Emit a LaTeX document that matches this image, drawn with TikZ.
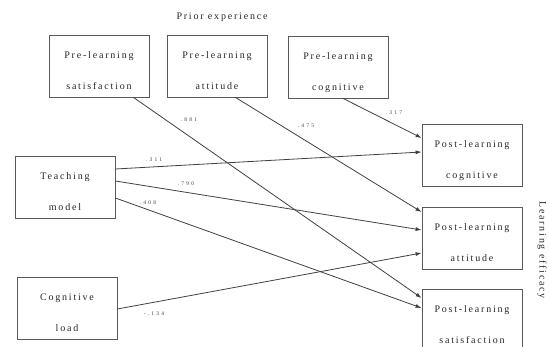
\documentclass[tikz,border=0pt]{standalone}
\usepackage{fontspec}
\setmainfont{Liberation Serif}[LetterSpace=18]
\newfontfamily\lblfont{Liberation Serif}[LetterSpace=40]
\usepackage{tikz}
\usetikzlibrary{arrows.meta}

\begin{document}
\begin{tikzpicture}[x=1pt,y=-1pt,
    box/.style={draw=black!65,line width=0.8pt,minimum width=100pt,minimum height=62pt,
      align=center,text=black!85,text height=50pt,text depth=2pt,font=\fontsize{10}{31}\selectfont},
    lbl/.style={text=black!75,font=\lblfont\fontsize{5.5}{6}\selectfont},
    arr/.style={draw=black!75,line width=0.8pt,-{Latex[length=6pt,width=4pt]}}]
  \useasboundingbox (0,0) rectangle (549,347);

  % Prior experience: top row
  \node[text=black!85,font=\fontsize{10}{12}\selectfont] (prior) at (222,17) {Prior experience};
  \node[box] (ps) at (99,66)  {Pre-learning\\satisfaction};
  \node[box] (pa) at (217,66) {Pre-learning\\attitude};
  \node[box] (pc) at (338,67) {Pre-learning\\cognitive};

  % left column
  \node[box] (tm) at (65,187) {Teaching\\model};
  \node[box] (cl) at (67,308) {Cognitive\\load};

  % Learning efficacy: right column
  \node[box] (postc) at (472,155) {Post-learning\\cognitive};
  \node[box] (posta) at (472,238) {Post-learning\\attitude};
  \node[box] (posts) at (472,320) {Post-learning\\satisfaction};
  \node[rotate=-90,text=black!85,font=\fontsize{10}{12}\selectfont] (eff) at (542,250) {Learning efficacy};

  % paths
  \draw[arr] ([xshift=-16pt]ps.south east) -- ([yshift=22pt]posts.west);
  \draw[arr] ([xshift=-32pt]pa.south east) -- ([yshift=26pt]posta.west);
  \draw[arr] ([xshift=5pt]pc.south) -- ([yshift=17pt]postc.west);
  \draw[arr] ([yshift=18pt]tm.east) -- ([yshift=3pt]postc.west);
  \draw[arr] ([yshift=6pt]tm.east) -- ([yshift=8pt]posta.west);
  \draw[arr] ([yshift=-11pt]tm.east) -- ([yshift=12pt]posts.west);
  \draw[arr] ([yshift=-1pt]cl.east) -- ([yshift=-15pt]posta.west);

  % coefficients
  \node[lbl] (c1) at (189,120) {.881};
  \node[lbl] (c2) at (306,126) {.475};
  \node[lbl] (c3) at (394,113) {.317};
  \node[lbl] (c4) at (154,160) {.311};
  \node[lbl] (c5) at (186,184) {.790};
  \node[lbl] (c6) at (148,203) {.408};
  \node[lbl] (c7) at (154,314) {-.134};
\end{tikzpicture}
\end{document}
